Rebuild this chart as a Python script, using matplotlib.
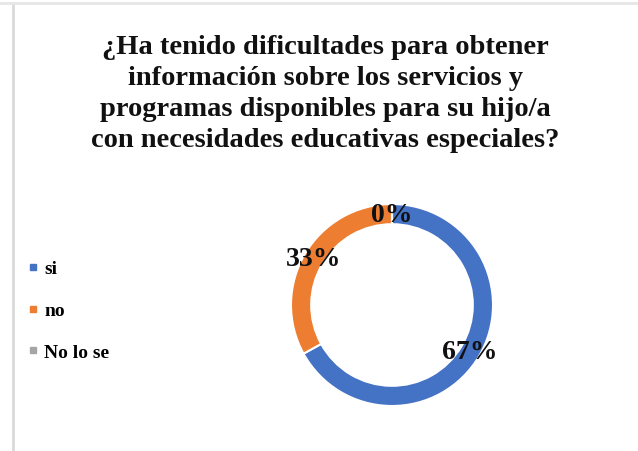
import matplotlib
matplotlib.use("Agg")
import matplotlib.pyplot as plt
from matplotlib.lines import Line2D
import numpy as np

categories = ["si", "no", "No lo se"]
values = [67, 33, 0]
labels = ["67%", "33%", "0%"]
colors = ["#4472C4", "#ED7D31", "#A5A5A5"]
title = ("¿Ha tenido dificultades para obtener\n"
         "información sobre los servicios y\n"
         "programas disponibles para su hijo/a\n"
         "con necesidades educativas especiales?")

W, H = 638, 452
fig = plt.figure(figsize=(W / 100, H / 100), dpi=100)
fig.patch.set_facecolor("white")
serif = ["Liberation Serif", "DejaVu Serif"]

# frame lines (screenshot border)
fig.add_artist(Line2D([13 / W, 13 / W], [0, 1 - 4 / H], color="#d9d9d9", lw=2))
fig.add_artist(Line2D([0, 1], [1 - 4 / H, 1 - 4 / H], color="#e6e6e6", lw=2))

# title
fig.text(325 / W, 1 - 94 / H, title, ha="center", va="center",
         fontsize=20.5, fontweight="bold", family=serif, linespacing=1.32,
         color="#111111")

# donut
cx, cy, r = 392, 306, 101
ax = fig.add_axes([(cx - r) / W, 1 - (cy + r) / H, 2 * r / W, 2 * r / H])
width = 0.2
wedges, _ = ax.pie(values, colors=colors, startangle=90, counterclock=False,
                   radius=1, wedgeprops=dict(width=width, edgecolor="white", linewidth=1.5))
ax.set_xlim(-1, 1)
ax.set_ylim(-1, 1)
ax.set_aspect("equal")
ax.axis("off")

rm = 1 - width / 2
for w, lab in zip(wedges, labels):
    ang = np.deg2rad((w.theta1 + w.theta2) / 2)
    ax.text(rm * np.cos(ang), rm * np.sin(ang), lab, ha="center", va="center",
            fontsize=20, fontweight="bold", family=serif, color="#111111")

# legend
handles = [Line2D([0], [0], marker="s", linestyle="none", markersize=5,
                  markerfacecolor=c, markeredgecolor=c) for c in colors]
leg = fig.legend(handles, categories, loc="upper left",
                 bbox_to_anchor=(19 / W, 1 - 253 / H), frameon=False,
                 prop=dict(family=serif, weight="bold", size=14),
                 labelspacing=1.25, handlelength=0.6, handletextpad=0.3,
                 borderaxespad=0)

fig.savefig("out.png", dpi=100, facecolor="white")
